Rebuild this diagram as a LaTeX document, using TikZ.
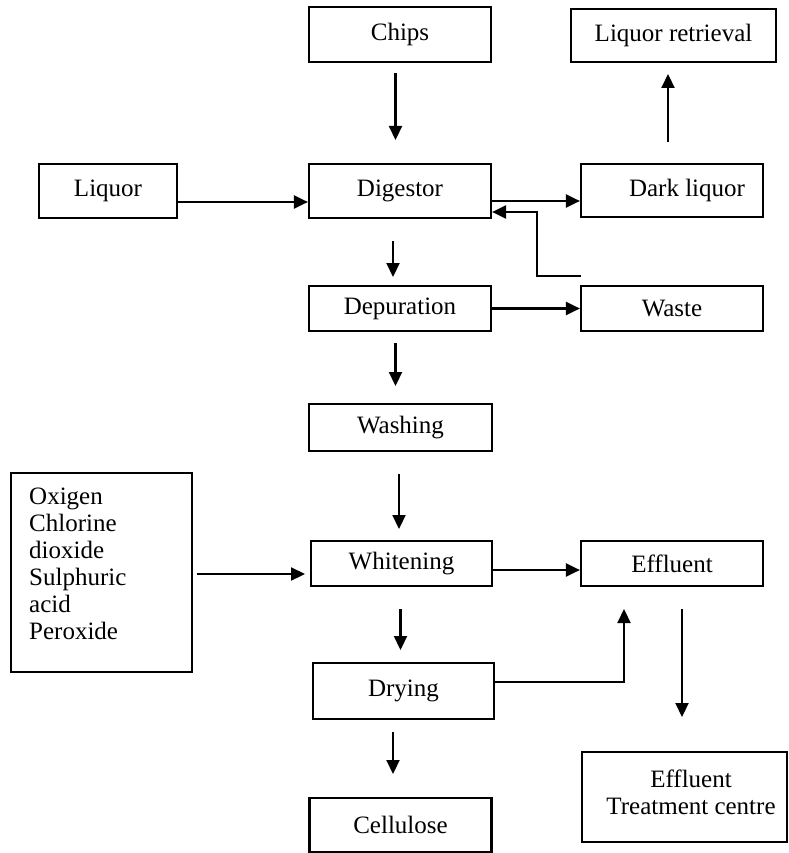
\documentclass[tikz,border=0pt]{standalone}
\usepackage{fontspec}
\setmainfont{Liberation Serif}
\usetikzlibrary{arrows.meta}
\tikzset{
  box/.style={draw, line width=2.2pt, inner sep=0pt, font=\fontsize{25}{27}\selectfont},
  txt/.style={inner sep=0pt, font=\fontsize{25}{27}\selectfont},
  arr/.style={line width=2.2pt, -{Triangle[length=14pt,width=13pt]}}
}
\begin{document}
\begin{tikzpicture}[x=1pt,y=-1pt]
\useasboundingbox (0,0) rectangle (788,853);
% boxes
\node[box, minimum width=182pt, minimum height=55pt] (chips) at (400,34.5) {Chips};
\node[box, minimum width=205pt, minimum height=53pt] (retr) at (673.5,35.5) {Liquor retrieval};
\node[box, minimum width=138pt, minimum height=54pt] (liquor) at (108,191) {Liquor};
\node[box, minimum width=182pt, minimum height=54pt] (dig) at (400,191) {Digestor};
\node[box, minimum width=182pt, minimum height=53pt] (dark) at (672,190.5) {};
\node[txt] (darkt) at (687,190.5) {Dark liquor};
\node[box, minimum width=182pt, minimum height=45pt] (depur) at (400,308.5) {Depuration};
\node[box, minimum width=182pt, minimum height=45pt] (waste) at (672,308.5) {Waste};
\node[box, minimum width=183pt, minimum height=47pt] (wash) at (400.5,427.5) {Washing};
\node[box, minimum width=181pt, minimum height=199pt] (oxi) at (101.5,572.5) {};
\node[txt, anchor=north west, align=left] (oxit) at (29,488) {Oxigen\\Chlorine\\dioxide\\Sulphuric\\acid\\Peroxide};
\node[box, minimum width=181pt, minimum height=45pt] (whit) at (401.5,563.5) {Whitening};
\node[box, minimum width=182pt, minimum height=45pt] (eff) at (672,563.5) {Effluent};
\node[box, minimum width=181pt, minimum height=56pt] (dry) at (403.5,691) {Drying};
\node[box, minimum width=182pt, minimum height=54pt] (cell) at (400.5,825) {Cellulose};
\node[box, minimum width=205pt, minimum height=90pt] (etc) at (684.5,797) {};
\node[txt, anchor=north, align=center] (etct) at (691,769.5) {Effluent\\Treatment centre};
% free connector ends
\coordinate (a1s) at (395.5,73);  \coordinate (a1e) at (395.5,140);
\coordinate (a2s) at (668,142);   \coordinate (a2e) at (668,74);
\coordinate (a3s) at (393,241);   \coordinate (a3e) at (393,277);
\coordinate (a4s) at (395.5,343); \coordinate (a4e) at (395.5,386);
\coordinate (a5s) at (399,474);   \coordinate (a5e) at (399,529);
\coordinate (a6s) at (400.5,609); \coordinate (a6e) at (400.5,650);
\coordinate (a7s) at (393,732);   \coordinate (a7e) at (393,774);
\coordinate (a8s) at (682,609);   \coordinate (a8e) at (682,717);
\coordinate (oxs) at (197,574);   \coordinate (oxe) at (305,574);
\coordinate (r0) at (581,276);
\coordinate (dr1) at (624,609);
% connectors
\draw[arr] (a1s) -- (a1e);
\draw[arr] (a2s) -- (a2e);
\draw[arr] (a3s) -- (a3e);
\draw[arr] (a4s) -- (a4e);
\draw[arr] (a5s) -- (a5e);
\draw[arr] (a6s) -- (a6e);
\draw[arr] (a7s) -- (a7e);
\draw[arr] (a8s) -- (a8e);
\draw[arr] (oxs) -- (oxe);
\draw[arr] ([yshift=-11pt]liquor.east) -- ([yshift=-11pt]dig.west);
\draw[arr] ([yshift=-10pt]dig.east) -- ([yshift=-10.5pt]dark.west);
\draw[arr] (r0) -- ++(-44,0) |- ([yshift=-21pt]dig.east);
\draw[arr] (depur.east) -- (waste.west);
\draw[arr] ([yshift=-6.5pt]whit.east) -- ([yshift=-6.5pt]eff.west);
\draw[arr] ([yshift=9pt]dry.east) -| (dr1);
\end{tikzpicture}
\end{document}
